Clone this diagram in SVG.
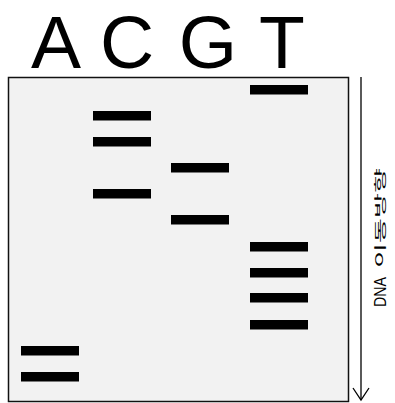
<svg xmlns="http://www.w3.org/2000/svg" width="395" height="403" viewBox="0 0 395 403">
<style>
.lbl{font-family:"Liberation Sans",Arial,sans-serif;font-size:75px;fill:#000;text-anchor:middle}
.band{fill:#000}
.ax{font-family:"Liberation Sans","Noto Sans CJK KR",sans-serif;font-size:16px;fill:#000}
.kr{font-family:"Noto Sans CJK KR",sans-serif;font-size:12px;fill:#000}
</style>
<rect width="395" height="403" fill="#fff"/>
<g id="labels">
<text class="lbl" x="56" y="68">A</text>
<text class="lbl" x="127" y="68">C</text>
<text class="lbl" x="208" y="68">G</text>
<text class="lbl" x="282" y="68">T</text>
</g>
<g id="gel">
<rect x="8.5" y="77.5" width="340" height="324" fill="#f2f2f2" stroke="#111" stroke-width="1.5"/>
</g>
<g id="lane-A">
<rect class="band" x="21" y="346" width="58" height="9.5"/>
<rect class="band" x="21" y="372" width="58" height="9.5"/>
</g>
<g id="lane-C">
<rect class="band" x="93" y="111" width="58" height="9.5"/>
<rect class="band" x="93" y="137" width="58" height="9.5"/>
<rect class="band" x="93" y="189" width="58" height="9.5"/>
</g>
<g id="lane-G">
<rect class="band" x="171" y="163" width="58" height="9.5"/>
<rect class="band" x="171" y="215" width="58" height="9.5"/>
</g>
<g id="lane-T">
<rect class="band" x="250" y="85" width="58" height="9.5"/>
<rect class="band" x="250" y="242" width="58" height="9.5"/>
<rect class="band" x="250" y="268" width="58" height="9.5"/>
<rect class="band" x="250" y="293" width="58" height="9.5"/>
<rect class="band" x="250" y="320" width="58" height="9.5"/>
</g>
<g id="connectors">
<line x1="361" y1="77" x2="361" y2="400" stroke="#000" stroke-width="1.3"/>
<polyline points="353,388 361,400 369,388" fill="none" stroke="#000" stroke-width="1.3"/>
</g>
<g id="direction-label">
<text class="ax" transform="translate(385.5,307) rotate(-90)" textLength="30" lengthAdjust="spacingAndGlyphs">DNA</text>
<text class="kr" transform="translate(385,268) rotate(-90)" textLength="100" lengthAdjust="spacingAndGlyphs">이동방향</text>
</g>
</svg>
